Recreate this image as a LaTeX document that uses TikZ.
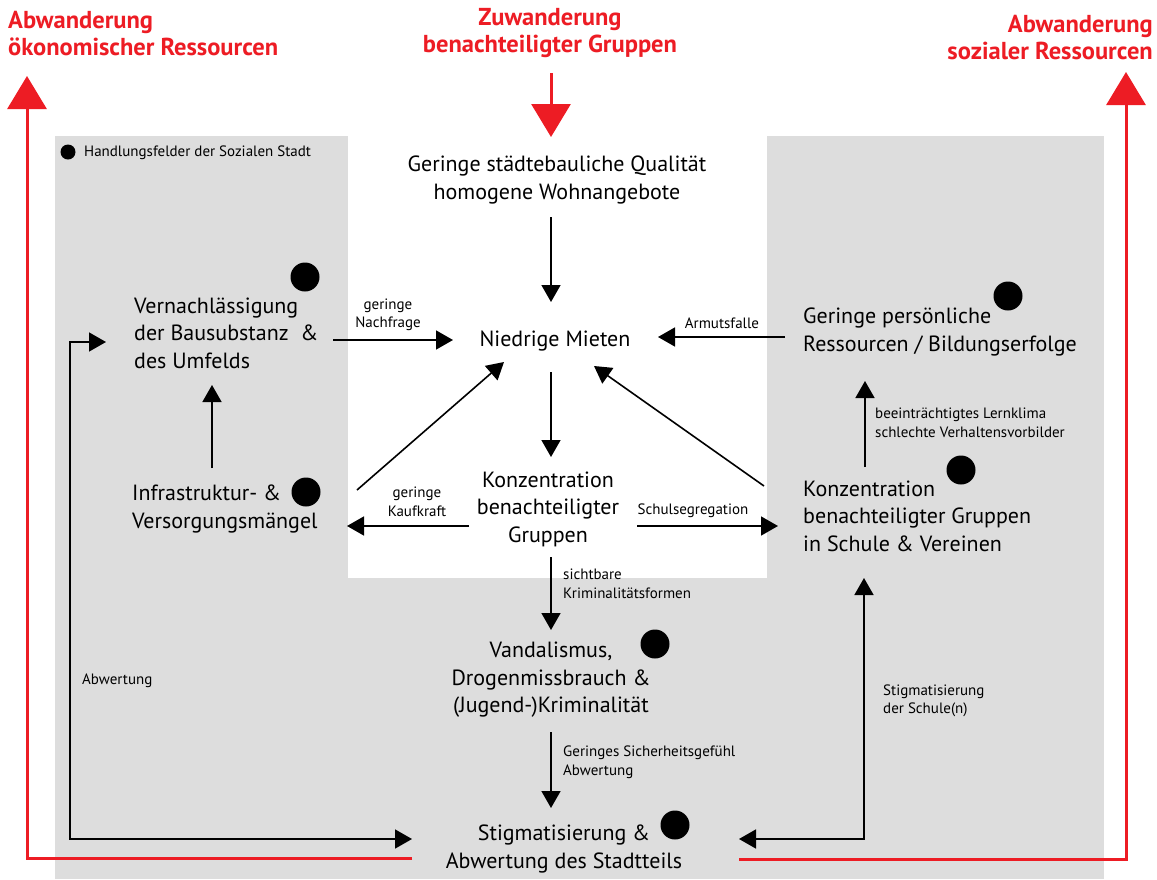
\documentclass[tikz,border=0pt]{standalone}
\usepackage{fontspec}
\setmainfont{PT Sans}
\usetikzlibrary{arrows.meta,calc}
\definecolor{bg}{RGB}{221,221,221}
\definecolor{rd}{RGB}{237,28,36}
\begin{document}
\begin{tikzpicture}[x=1pt,y=-1pt,
  main/.style={inner sep=0pt, font=\fontsize{22}{27.5}\selectfont},
  lab/.style={inner sep=0pt, font=\fontsize{15}{18.5}\selectfont},
  ttl/.style={inner sep=0pt, text=rd, font=\bfseries\fontsize{24.5}{27}\selectfont},
  dot/.style={circle, fill=black, inner sep=0pt, minimum size=29pt},
  arr/.style={line width=1.6pt, -{Triangle[length=17pt,width=19pt]}},
  darr/.style={line width=1.6pt, {Triangle[length=17pt,width=19pt]}-{Triangle[length=17pt,width=19pt]}},
  rarr/.style={line width=3pt, draw=rd, -{Triangle[length=33pt,width=39pt]}}]
\useasboundingbox (0,0) rectangle (1157,879);
\fill[white] (0,0) rectangle (1157,879);
% grey panels
\fill[bg] (55,136) rectangle (348,879);
\fill[bg] (767,136) rectangle (1104,879);
\fill[bg] (55,578) rectangle (1104,879);

% titles
\node[ttl, anchor=west, align=left] (tl) at (8,34) {Abwanderung\\ökonomischer Ressourcen};
\node[ttl, align=center] (tc) at (550,33) {Zuwanderung\\benachteiligter Gruppen};
\node[ttl, anchor=east, align=right] (tr) at (1153,38) {Abwanderung\\sozialer Ressourcen};

% legend
\node[dot, minimum size=15pt] (ldot) at (68,152) {};
\node[lab, anchor=west] (legend) at (84,153) {Handlungsfelder der Sozialen Stadt};

% main nodes
\node[main, align=center] (geringe) at (557,180) {Geringe städtebauliche Qualität\\homogene Wohnangebote};
\node[main] (niedrig) at (555,341) {Niedrige Mieten};
\node[main, anchor=west, align=left] (vern) at (134,333) {Vernachlässigung\\der Bausubstanz\ \ \&\\des Umfelds};
\node[main, anchor=west, align=left] (infra) at (132,509) {Infrastruktur- \&\\Versorgungsmängel};
\node[main, align=center] (konz) at (548,509) {Konzentration\\benachteiligter\\Gruppen};
\node[main, anchor=west, align=left] (gpers) at (803,332) {Geringe persönliche\\Ressourcen / Bildungserfolge};
\node[main, anchor=west, align=left] (kschule) at (803,516) {Konzentration\\benachteiligter Gruppen\\in Schule \& Vereinen};
\node[main, align=center] (vand) at (551,680) {Vandalismus,\\Drogenmissbrauch \&\\(Jugend-)Kriminalität};
\node[main, align=center] (stig) at (564,849) {Stigmatisierung \&\\Abwertung des Stadtteils};

% dots
\node[dot] (d1) at (305,277) {};
\node[dot] (d2) at (306,492) {};
\node[dot] (d3) at (1008,296) {};
\node[dot] (d4) at (961,470) {};
\node[dot] (d5) at (655,644) {};
\node[dot] (d6) at (675,825) {};

% labels
\node[lab, align=center] (lnach) at (388,315) {geringe\\Nachfrage};
\node[lab] (larm) at (722,323) {Armutsfalle};
\node[lab, align=center] (lkauf) at (417,502) {geringe\\Kaufkraft};
\node[lab] (lschul) at (693,511) {Schulsegregation};
\node[lab, anchor=west, align=left] (llern) at (875,423) {beeinträchtigtes Lernklima\\schlechte Verhaltensvorbilder};
\node[lab, anchor=west, align=left] (lsicht) at (563,584) {sichtbare\\Kriminalitätsformen};
\node[lab, anchor=west, align=left] (lsich) at (563,762) {Geringes Sicherheitsgefühl\\Abwertung};
\node[lab, anchor=west] (labw) at (82,681) {Abwertung};
\node[lab, anchor=west, align=left] (lstsch) at (883,701) {Stigmatisierung\\der Schule(n)};

% black connectors
\draw[arr] ($(geringe)+(-6,37)$) -- ($(niedrig)+(-4,-39)$);
\draw[arr] ($(vern.west)+(199,7)$) -- ($(niedrig)+(-102,-1)$);
\draw[arr] ($(gpers.west)+(-18,5)$) -- ($(niedrig)+(103,-4)$);
\draw[arr] ($(niedrig)+(-4,31)$) -- ($(konz)+(3,-52)$);
\draw[arr] ($(konz)+(-79,17)$) -- ($(infra.west)+(215,17)$);
\draw[arr] ($(infra.west)+(225,-19)$) -- ($(niedrig)+(-51,21)$);
\draw[arr] ($(kschule.west)+(-39,-30)$) -- ($(niedrig)+(39,25)$);
\draw[arr] ($(konz)+(89,17)$) -- ($(kschule.west)+(-25,10)$);
\draw[arr] ($(infra.west)+(80,-41)$) -- ($(vern.west)+(78,52)$);
\draw[arr] ($(kschule.west)+(62,-49)$) -- ($(gpers.west)+(62,49)$);
\draw[arr] ($(konz)+(3,48)$) -- ($(vand)+(0,-50)$);
\draw[arr] ($(vand)+(0,52)$) -- ($(stig)+(-13,-41)$);
\draw[darr] ($(stig)+(-152,-10)$) -| ($(vern.west)+(-64,9)$) -- ($(vern.west)+(-28,9)$);
\draw[darr] ($(stig)+(175,-10)$) -| ($(kschule.west)+(61,62)$);

% red connectors
\draw[rarr] ($(stig)+(-152,9)$) -| ($(tl.west)+(19,42)$);
\draw[rarr] ($(stig)+(175,10)$) -| ($(tr.east)+(-27,34)$);
\draw[rarr] ($(tc)+(1,40)$) -- ($(geringe)+(-6,-43)$);
\end{tikzpicture}
\end{document}
